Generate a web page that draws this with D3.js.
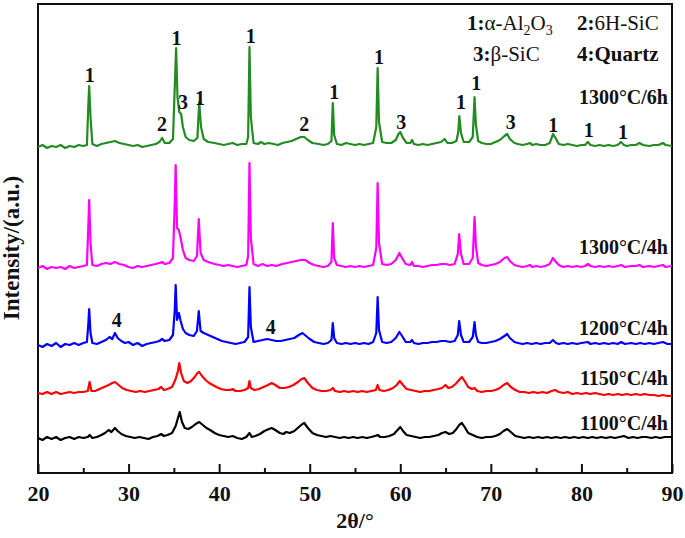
<!DOCTYPE html>
<html>
<head>
<meta charset="utf-8">
<script src="https://cdnjs.cloudflare.com/ajax/libs/d3/7.8.5/d3.min.js"></script>
<style>
    body { margin: 0; background: #fff; }
    text { font-family: "Liberation Serif", "Times New Roman", serif; font-weight: bold; fill: #111; }
</style>
</head>
<body>
<svg id="chart" width="685" height="538"></svg>
<script>

/** Sample names, drawn from bottom to top */
var samples = ['1100°C/4h', '1150°C/4h', '1200°C/4h', '1300°C/4h', '1300°C/6h'];

/** Line colour of each sample */
var sampleColors = ['#000000', '#ff0000', '#0000ff', '#ff00ff', '#228b22'];

/** Vertical offset (a.u.) of each pattern in the stacked plot */
var offsets = [35, 80, 128, 205, 326];

/** Height (a.u., above offset) where the sample name sits */
var nameLevels = [15, 15, 17, 21, 50];

/** XRD patterns: [2theta, intensity] */
var pattern1100 = [[20,0],[20.5,-2],[21,1],[21.5,-1],[22,1],[22.5,-2],[23,0],[23.5,1],[24,-1],[24.5,1],[25,0],[25.5,1],[25.7,3],[26,0],[26.5,1],[27,3],[27.4,5],[27.8,8],[28.1,6],[28.5,10],[28.8,7],[29.2,4],[29.7,2],[30.2,1],[30.7,0],[31.2,1],[31.7,0],[32.2,-1],[32.7,1],[33.2,2],[33.6,4],[33.9,2],[34.3,3],[34.8,5],[35.2,12],[35.45,20],[35.65,26],[35.9,16],[36.2,10],[36.6,9],[37,11],[37.4,14],[37.8,16],[38.2,13],[38.6,10],[39,8],[39.5,5],[40,3],[40.5,2],[41,1],[41.5,2],[42,0],[42.5,-1],[43,1],[43.35,5],[43.6,1],[44,2],[44.5,4],[45,7],[45.5,9],[45.8,10],[46.2,8],[46.7,5],[47.1,4],[47.4,6],[47.8,5],[48.3,7],[48.8,11],[49.2,14],[49.4,15],[49.8,10],[50.3,5],[50.8,3],[51.3,2],[51.8,1],[52.3,2],[52.8,1],[53.3,0],[53.8,1],[54.3,0],[54.8,1],[55.3,0],[55.8,1],[56.3,0],[56.8,1],[57.2,2],[57.5,3],[57.8,1],[58.3,1],[58.8,2],[59.3,4],[59.7,8],[60,11],[60.3,7],[60.7,3],[61.2,2],[61.7,1],[62.2,0],[62.7,1],[63.2,1],[63.7,2],[64.2,3],[64.6,5],[65,6],[65.4,4],[65.8,5],[66.2,9],[66.5,13],[66.8,15],[67.1,11],[67.5,5],[68,3],[68.5,1],[69,0],[69.5,1],[70,1],[70.5,2],[71,4],[71.4,7],[71.8,9],[72.2,6],[72.7,2],[73.2,1],[73.7,0],[74.2,1],[74.7,0],[75.2,1],[75.7,0],[76.2,1],[76.7,0],[77.2,1],[77.7,0],[78.2,1],[78.7,0],[79.2,1],[79.7,0],[80.2,1],[80.7,0],[81.2,1],[81.7,0],[82.2,1],[82.7,0],[83.2,1],[83.7,0],[84.2,1],[84.7,2],[85.2,0],[85.7,1],[86.2,0],[86.7,1],[87.2,1],[87.7,0],[88.2,1],[88.7,0],[89.2,1],[90,1]];

var pattern1150 = [[20,0],[20.5,-1],[21,1],[21.5,-1],[22,1],[22.5,-1],[23,0],[23.5,1],[24,0],[24.5,1],[25,1],[25.5,2],[25.7,11],[25.9,2],[26.3,2],[26.8,4],[27.3,6],[27.8,8],[28.2,10],[28.5,11],[28.9,8],[29.3,5],[29.8,3],[30.3,2],[30.8,1],[31.3,2],[31.8,1],[32.3,2],[32.8,3],[33.3,4],[33.6,6],[33.9,3],[34.3,4],[34.8,6],[35.2,14],[35.45,22],[35.6,30],[35.8,20],[36.1,12],[36.5,10],[36.9,12],[37.3,16],[37.6,20],[37.8,21],[38.1,17],[38.5,13],[38.9,10],[39.3,8],[39.7,6],[40.2,4],[40.7,3],[41.2,3],[41.5,4],[41.8,2],[42.3,2],[42.8,3],[43.2,5],[43.35,12],[43.5,5],[43.9,3],[44.4,4],[44.9,6],[45.4,8],[45.8,10],[46.2,8],[46.7,5],[47.2,5],[47.7,6],[48.2,8],[48.7,11],[49.1,14],[49.4,15],[49.8,10],[50.3,5],[50.8,3],[51.3,2],[51.8,2],[52.3,3],[52.55,5],[52.8,2],[53.3,1],[53.8,2],[54.3,1],[54.8,2],[55.3,1],[55.8,2],[56.3,1],[56.8,2],[57.3,3],[57.5,8],[57.7,3],[58.2,2],[58.7,3],[59.2,5],[59.6,8],[59.95,12],[60.3,8],[60.7,4],[61.2,3],[61.7,2],[62.2,1],[62.7,2],[63.2,2],[63.7,3],[64.2,4],[64.6,5],[65,8],[65.3,5],[65.7,6],[66.1,9],[66.5,13],[66.8,16],[67.1,12],[67.5,6],[67.9,4],[68.2,5],[68.5,2],[69,1],[69.5,2],[70,2],[70.5,3],[71,5],[71.4,8],[71.8,10],[72.2,6],[72.7,3],[73.2,1],[73.7,1],[74.2,0],[74.7,1],[75.2,0],[75.7,1],[76.2,0],[76.7,2],[77.1,3],[77.5,1],[78,0],[78.5,1],[79,-1],[79.5,0],[80,-1],[80.5,0],[81,-1],[81.5,0],[82,-1],[82.5,-2],[83,-1],[83.5,-2],[84,-1],[84.5,-2],[85,-1],[85.5,-2],[86,-1],[86.5,-2],[87,-1],[87.5,-2],[88,-2],[88.5,-3],[89,-2],[89.5,-3],[90,-3]];

var pattern1200 = [[20,0],[20.5,-2],[21,1],[21.5,-1],[22,2],[22.5,-2],[23,1],[23.5,0],[24,2],[24.5,0],[25,2],[25.4,3],[25.55,20],[25.65,36],[25.8,12],[26,2],[26.5,1],[27,3],[27.5,5],[27.9,8],[28.2,6],[28.5,12],[28.8,7],[29.2,4],[29.6,2],[30,3],[30.5,0],[31,2],[31.5,-1],[32,1],[32.5,2],[33,3],[33.4,4],[33.7,6],[34,4],[34.5,5],[34.9,10],[35.1,35],[35.2,60],[35.35,25],[35.55,32],[35.75,24],[36,16],[36.3,12],[36.7,10],[37.2,9],[37.55,14],[37.75,34],[37.95,14],[38.3,12],[38.8,10],[39.3,8],[39.8,6],[40.3,4],[40.8,3],[41.3,2],[41.8,1],[42.3,2],[42.8,3],[43.2,8],[43.35,58],[43.5,18],[43.8,3],[44.3,4],[44.8,5],[45.3,6],[45.8,5],[46.3,4],[46.8,4],[47.3,5],[47.8,6],[48.3,7],[48.8,10],[49.2,12],[49.6,9],[50,6],[50.5,3],[51,2],[51.5,1],[52,2],[52.4,5],[52.55,22],[52.7,7],[53,2],[53.5,1],[54,2],[54.5,1],[55,2],[55.5,1],[56,2],[56.5,1],[57,3],[57.35,12],[57.5,48],[57.65,15],[58,3],[58.5,2],[59,3],[59.5,7],[59.9,13],[60.2,9],[60.6,3],[61.1,3],[61.3,5],[61.5,2],[62,1],[62.5,2],[63,2],[63.5,3],[64,3],[64.5,4],[65,4],[65.5,3],[66,4],[66.35,10],[66.5,24],[66.7,10],[67,3],[67.6,3],[68,8],[68.2,23],[68.35,10],[68.6,3],[69,2],[69.5,2],[70,3],[70.5,4],[71,6],[71.5,9],[71.8,11],[72.1,7],[72.6,3],[73,2],[73.5,1],[74,2],[74.5,1],[75,2],[75.5,1],[76,2],[76.5,2],[76.85,5],[77.2,2],[77.5,1],[78,2],[78.5,1],[79,2],[79.5,1],[80,2],[80.7,3],[81,1],[81.5,2],[82,1],[82.5,2],[83,1],[83.5,2],[84,1],[84.4,3],[84.8,1],[85.5,2],[86,1],[86.5,2],[87,1],[87.5,2],[88,1],[88.5,2],[89,3],[89.5,1],[90,1]];

var pattern1300a = [[20,0],[20.5,2],[21,-1],[21.5,1],[22,0],[22.5,1],[23,-1],[23.5,2],[24,0],[24.5,1],[25,2],[25.4,3],[25.55,40],[25.65,68],[25.8,25],[26,3],[26.5,2],[27,4],[27.5,5],[28,4],[28.5,6],[29,4],[29.5,3],[30,1],[30.5,0],[31,2],[31.5,1],[32,2],[32.5,3],[33,4],[33.4,5],[33.7,6],[34,4],[34.5,5],[34.9,10],[35.1,65],[35.2,103],[35.35,40],[35.55,38],[35.75,30],[36,18],[36.3,10],[36.7,8],[37.2,7],[37.55,12],[37.75,49],[37.95,15],[38.3,8],[38.8,6],[39.5,4],[40,3],[40.5,2],[41,3],[41.5,2],[42,1],[42.5,2],[43,3],[43.2,12],[43.35,105],[43.5,30],[43.8,4],[44.3,2],[44.8,4],[45.3,2],[45.8,3],[46.3,2],[47,4],[47.5,5],[48,6],[48.5,7],[49,8],[49.5,8],[50,5],[50.5,3],[51,2],[51.5,1],[52,2],[52.4,6],[52.55,45],[52.7,10],[53,3],[53.5,2],[54,1],[54.5,2],[55,1],[55.5,2],[56,1],[56.5,2],[57,3],[57.35,20],[57.5,85],[57.65,25],[58,4],[58.5,3],[59,4],[59.5,8],[59.9,15],[60.2,10],[60.6,4],[61.1,3],[61.3,6],[61.5,2],[62,2],[62.5,1],[63,2],[63.5,3],[64,3],[64.5,4],[65,4],[65.5,3],[66,4],[66.35,14],[66.5,34],[66.7,14],[67,4],[67.6,4],[68,10],[68.2,51],[68.35,22],[68.6,5],[69,3],[69.5,2],[70,3],[70.5,4],[71,6],[71.5,10],[71.8,11],[72.1,7],[72.6,3],[73,2],[73.5,1],[74,2],[74.3,3],[74.6,1],[75,2],[75.5,1],[76,2],[76.5,4],[76.85,10],[77.1,7],[77.5,3],[78,1],[78.5,2],[79,1],[79.5,2],[80,1],[80.4,2],[80.7,4],[81,2],[81.5,1],[82,2],[82.5,1],[83,2],[83.5,1],[84,2],[84.4,3],[84.8,1],[85.5,2],[86,2],[86.4,3],[86.8,1],[87.5,2],[88,1],[88.5,2],[89,3],[89.3,1],[90,2]];

var pattern1300b = [[20,0],[20.5,2],[21,-1],[21.5,1],[22,0],[22.5,2],[23,-1],[23.5,1],[24,0],[24.5,2],[25,1],[25.4,2],[25.55,40],[25.65,61],[25.8,30],[26,3],[26.5,1],[27,3],[27.5,4],[28,5],[28.5,6],[29,4],[29.5,3],[30,2],[30.5,1],[31,2],[31.5,0],[32,1],[32.5,2],[33,3],[33.4,5],[33.7,9],[34,4],[34.5,4],[34.9,8],[35.1,60],[35.25,99],[35.4,50],[35.6,35],[35.8,33],[36,20],[36.3,10],[36.7,7],[37.2,6],[37.6,9],[37.8,45],[38,20],[38.3,8],[38.8,5],[39.5,4],[40,3],[40.5,2],[41,3],[41.5,4],[42,2],[42.5,3],[43,3],[43.2,10],[43.35,100],[43.5,30],[43.8,4],[44.3,3],[44.6,5],[45,3],[45.5,4],[46,3],[46.5,2],[47,4],[47.5,5],[48,6],[48.5,8],[49,10],[49.4,10],[49.8,7],[50.3,4],[51,3],[51.5,2],[52,3],[52.4,6],[52.55,44],[52.7,12],[53,3],[53.5,2],[54,4],[54.5,3],[55,2],[55.5,3],[56,2],[56.5,3],[57,4],[57.35,20],[57.5,79],[57.65,25],[58,5],[58.5,4],[59,4],[59.5,7],[59.8,13],[60,15],[60.3,9],[60.7,4],[61.1,4],[61.3,7],[61.5,3],[62,2],[62.5,3],[63,2],[63.5,3],[64,4],[64.5,5],[64.9,8],[65.2,4],[65.7,4],[66.2,6],[66.4,15],[66.52,31],[66.7,14],[67,5],[67.6,5],[68,10],[68.2,50],[68.35,22],[68.6,6],[69,4],[69.5,3],[70,3],[70.5,5],[71,7],[71.5,11],[71.8,13],[72.1,8],[72.6,4],[73,3],[73.5,2],[74,3],[74.3,4],[74.6,2],[75,3],[75.5,2],[76,2],[76.5,4],[76.87,13],[77.2,8],[77.5,3],[78,2],[78.5,3],[79,2],[79.5,1],[80,2],[80.4,2],[80.7,5],[81,2],[81.5,1],[82,2],[82.5,1],[83,2],[83.5,1],[84,2],[84.36,5],[84.7,2],[85,1],[85.5,2],[86,2],[86.4,4],[86.8,2],[87.5,1],[88,2],[88.5,2],[89,4],[89.3,2],[90,1]];

var patterns = [pattern1100, pattern1150, pattern1200, pattern1300a, pattern1300b];

/** Phase marks: [2theta, level above the pattern, phase number] */
var marks1300b = [[25.7,72,'1'],[33.7,23,'2'],[35.3,109,'1'],[36.0,45,'3'],[37.9,49,'1'],[43.5,111,'1'],[49.4,23,'2'],[52.7,55,'1'],[57.65,90,'1'],[60.1,25,'3'],[66.7,45,'1'],[68.4,64,'1'],[72.2,25,'3'],[76.9,22,'1'],[80.8,17,'1'],[84.6,15,'1']];
var marks1200 = [[28.7,25,'4'],[45.7,18,'4']];

/** Phase legend */
var phaseNums = ['1', '2', '3', '4'];
var phaseNames = ['α-Al|2|O|3', '6H-SiC', 'β-SiC', 'Quartz'];

/** Axis ticks */
var majorTicks = [20, 30, 40, 50, 60, 70, 80, 90];
var minorTicks = [25, 35, 45, 55, 65, 75, 85];

/** Layout */
var width = 685, height = 538;
var margin = {left: 38, right: 13, top: 4, bottom: 65};

var svg = d3.select('#chart');

var xScale = d3.scaleLinear()
    .domain([20, 90])
    .range([margin.left, width - margin.right]);

var yScale = d3.scaleLinear()
    .domain([0, 469])
    .range([height - margin.bottom, margin.top]);

drawAxes();
drawPatterns();
drawLabels();
drawLegend();

function drawAxes() {
    var bottom = height - margin.bottom;

    var major = d3.axisBottom(xScale)
        .tickValues(majorTicks)
        .tickSizeInner(-9)
        .tickSizeOuter(0)
        .tickPadding(12)
        .tickFormat(d3.format('d'));

    var minor = d3.axisBottom(xScale)
        .tickValues(minorTicks)
        .tickSizeInner(-5)
        .tickSizeOuter(0)
        .tickFormat('');

    var g = svg.append('g').attr('transform', 'translate(0,' + bottom + ')').call(major);
    var g2 = svg.append('g').attr('transform', 'translate(0,' + bottom + ')').call(minor);
    [g, g2].forEach(function (a) {
        a.select('.domain').remove();
        a.selectAll('line').attr('stroke', '#111').attr('stroke-width', 2);
    });
    g.selectAll('text')
        .attr('font-family', '"Liberation Serif", serif')
        .attr('font-size', 22)
        .attr('font-weight', 'bold')
        .attr('fill', '#111');

    // frame
    svg.append('rect')
        .attr('x', margin.left)
        .attr('y', margin.top)
        .attr('width', width - margin.left - margin.right)
        .attr('height', bottom - margin.top)
        .attr('fill', 'none')
        .attr('stroke', '#111')
        .attr('stroke-width', 2);

    svg.append('text')
        .attr('x', xScale(55))
        .attr('y', 528)
        .attr('text-anchor', 'middle')
        .attr('font-size', 22)
        .text('2θ/°');

    svg.append('text')
        .attr('transform', 'translate(19,' + 248 + ') rotate(-90)')
        .attr('text-anchor', 'middle')
        .attr('font-size', 23)
        .text('Intensity/(a.u.)');
}

function drawPatterns() {
    patterns.forEach(function (pat, i) {
        var line = d3.line()
            .x(function (d) { return xScale(d[0]); })
            .y(function (d) { return yScale(offsets[i] + d[1]); });

        svg.append('path')
            .datum(pat)
            .attr('fill', 'none')
            .attr('stroke', sampleColors[i])
            .attr('stroke-width', 2.2)
            .attr('stroke-linejoin', 'round')
            .attr('d', line);
    });
}

function drawLabels() {
    // sample names on the right
    svg.selectAll('.sample')
        .data(samples)
        .enter()
        .append('text')
        .attr('class', 'sample')
        .attr('x', 668)
        .attr('y', function (d, i) { return yScale(offsets[i] + nameLevels[i]); })
        .attr('dy', '0.35em')
        .attr('text-anchor', 'end')
        .attr('font-size', 20)
        .text(function (d) { return d; });

    var sets = [[marks1300b, 4], [marks1200, 2]];
    sets.forEach(function (s) {
        svg.selectAll(null)
            .data(s[0])
            .enter()
            .append('text')
            .attr('x', function (d) { return xScale(d[0]); })
            .attr('y', function (d) { return yScale(offsets[s[1]] + d[1]); })
            .attr('dy', '0.35em')
            .attr('text-anchor', 'middle')
            .attr('font-size', 20)
            .text(function (d) { return d[2]; });
    });
}

function drawLegend() {
    var pos = [[467, 30], [577, 30], [473, 61], [577, 61]];

    phaseNums.forEach(function (n, i) {
        var t = svg.append('text')
            .attr('x', pos[i][0])
            .attr('y', pos[i][1])
            .attr('font-size', 21);
        t.append('tspan').text(n + ':');
        var parts = phaseNames[i].split('|');
        parts.forEach(function (p, j) {
            var sp = t.append('tspan').text(p);
            if (i !== 3) sp.attr('font-weight', 'normal');
            if (j % 2 === 1) {
                sp.attr('font-size', 14).attr('dy', 5);
            } else if (j > 0) {
                sp.attr('dy', -5);
            }
        });
    });
}

</script>
</body>
</html>
